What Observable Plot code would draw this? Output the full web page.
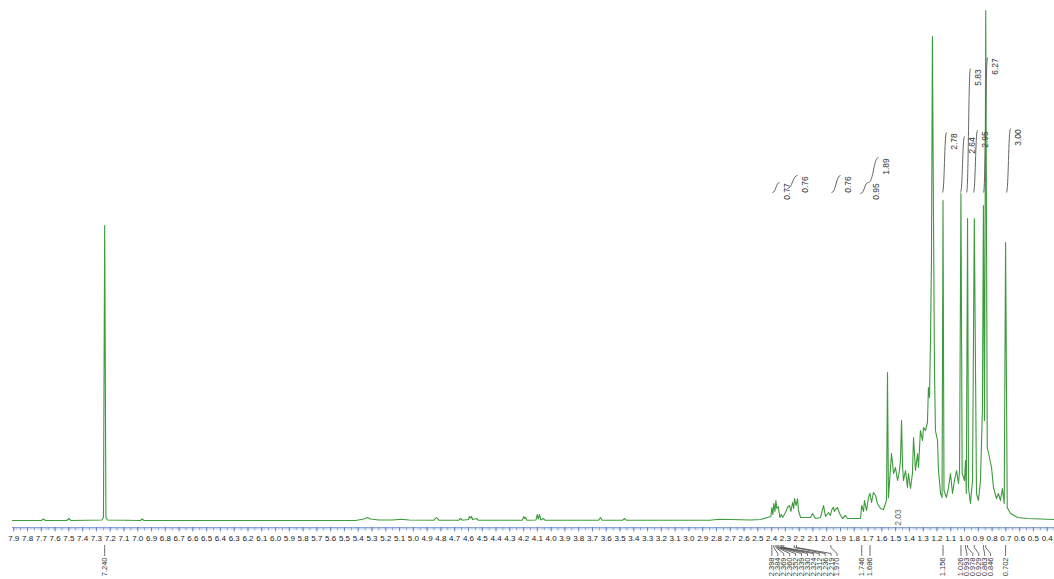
<!DOCTYPE html>
<html><head><meta charset="utf-8">
<script src="https://cdn.jsdelivr.net/npm/d3@7"></script>
<script src="https://cdn.jsdelivr.net/npm/@observablehq/plot@0.6"></script>
<style>body{margin:0;background:#fff}#chart svg{display:block}</style>
</head><body><div id="chart"></div>
<script>
// Chemical shift (ppm) and intensity of the trace
const shiftPpm = [
  7.909, 7.700, 7.684, 7.670, 7.515, 7.500, 7.485, 7.260, 7.249, 7.240,
  7.231, 7.220, 6.980, 6.968, 6.955, 5.420, 5.360, 5.335, 5.310, 5.250,
  5.150, 5.093, 5.030, 4.850, 4.832, 4.815, 4.670, 4.658, 4.645, 4.600,
  4.593, 4.585, 4.578, 4.570, 4.542, 4.530, 4.210, 4.198, 4.191, 4.186,
  4.175, 4.110, 4.101, 4.093, 4.084, 4.075, 4.058, 4.045, 3.655, 3.642,
  3.630, 3.480, 3.468, 3.455, 2.850, 2.780, 2.700, 2.550, 2.481, 2.430,
  2.405, 2.398, 2.391, 2.384, 2.376, 2.369, 2.362, 2.352, 2.340, 2.330,
  2.320, 2.299, 2.285, 2.270, 2.260, 2.248, 2.240, 2.234, 2.222, 2.212,
  2.205, 2.190, 2.169, 2.118, 2.103, 2.081, 2.045, 2.023, 2.009, 1.987,
  1.973, 1.965, 1.958, 1.951, 1.944, 1.936, 1.922, 1.907, 1.886, 1.864,
  1.849, 1.755, 1.746, 1.733, 1.726, 1.711, 1.697, 1.686, 1.675, 1.661,
  1.646, 1.632, 1.610, 1.588, 1.574, 1.566, 1.559, 1.552, 1.530, 1.515,
  1.501, 1.486, 1.472, 1.465, 1.457, 1.450, 1.443, 1.428, 1.414, 1.407,
  1.392, 1.378, 1.370, 1.356, 1.341, 1.334, 1.320, 1.305, 1.298, 1.283,
  1.269, 1.262, 1.254, 1.247, 1.240, 1.233, 1.225, 1.218, 1.211, 1.196,
  1.189, 1.174, 1.163, 1.156, 1.149, 1.131, 1.116, 1.102, 1.087, 1.073,
  1.058, 1.044, 1.036, 1.026, 1.017, 1.000, 0.993, 0.987, 0.978, 0.971,
  0.957, 0.942, 0.929, 0.913, 0.899, 0.884, 0.870, 0.863, 0.855, 0.846,
  0.835, 0.819, 0.804, 0.790, 0.768, 0.754, 0.739, 0.725, 0.712, 0.702,
  0.690, 0.666, 0.616, 0.543, 0.347
];
const intensity = [
  0, 0, 1.5, 0, 0, 2, 0, 0.5, 3, 295,
  3, 0.5, 0, 1.5, 0, 0, 1.5, 3, 1.5, 0.5,
  0.5, 1.2, 0.5, 0.3, 3, 0.3, 0.3, 2, 0.3, 1,
  4, 2.5, 4, 1, 2, 0.3, 0.3, 4, 2, 3,
  0.3, 0.5, 6, 1.5, 6, 0.5, 2, 0.3, 0.3, 3,
  0.3, 0.3, 2, 0.3, 0.3, 1.2, 1, 0.5, 1, 3,
  4, 13, 6, 17, 9, 20, 12, 14, 3, 6,
  3, 8, 13, 15, 9, 18, 12, 22, 15, 22,
  10, 3, 3, 3, 7, 2, 3, 15, 4, 8,
  5, 10, 12, 13, 9, 11, 13, 7, 2, 5,
  2, 2, 15, 9, 20, 10, 23, 27, 18, 28,
  25, 17, 12, 11, 17, 20, 148, 23, 67, 47,
  53, 40, 50, 60, 100, 55, 40, 50, 33, 47,
  32, 47, 83, 50, 67, 53, 90, 80, 93, 90,
  98, 133, 123, 180, 260, 484, 300, 150, 90, 80,
  50, 27, 23, 320, 30, 23, 33, 47, 27, 40,
  50, 37, 50, 327, 47, 40, 60, 27, 302, 33,
  17, 40, 302, 27, 20, 40, 112, 315, 100, 510,
  73, 63, 53, 33, 22, 27, 20, 32, 17, 278,
  13, 7, 3, 2, 1
];

// Peak picking labels
const peakLabels = [7.240, 2.398, 2.384, 2.369, 2.360, 2.352, 2.339, 2.330, 2.324, 2.312, 2.236, 2.219, 1.970,
  1.746, 1.686, 1.156, 1.026, 0.993, 0.978, 0.929, 0.863, 0.846, 0.702];

// Integrals
const integralValues = ["0.77", "0.76", "0.76", "0.95", "1.89", "2.78", "2.64", "5.83", "2.95", "6.27", "3.00"];
const integralFrom = [2.394, 2.285, 1.965, 1.755, 1.697, 1.160, 1.029, 0.985, 0.935, 0.862, 0.696];
const integralTo   = [2.343, 2.212, 1.900, 1.697, 1.624, 1.131, 1.000, 0.957, 0.906, 0.833, 0.666];
const integralLow  = [328, 332, 328, 327, 338, 328, 328, 328, 328, 328, 328];
const integralHigh = [338, 345, 345, 338, 363, 388, 384, 452, 390, 463, 392];

// Integral value shown near the baseline
const baseIntegralValue = ["2.03"];
const baseIntegralPpm = [1.480];
const baseIntegralLevel = [3];

// Axis tick labels (ppm)
const tickLabels = [7.9, 7.8, 7.7, 7.6, 7.5, 7.4, 7.3, 7.2, 7.1, 7.0, 6.9, 6.8, 6.7, 6.6, 6.5, 6.4, 6.3, 6.2, 6.1, 6.0,
  5.9, 5.8, 5.7, 5.6, 5.5, 5.4, 5.3, 5.2, 5.1, 5.0, 4.9, 4.8, 4.7, 4.6, 4.5, 4.4, 4.3, 4.2, 4.1, 4.0,
  3.9, 3.8, 3.7, 3.6, 3.5, 3.4, 3.3, 3.2, 3.1, 3.0, 2.9, 2.8, 2.7, 2.6, 2.5, 2.4, 2.3, 2.2, 2.1, 2.0,
  1.9, 1.8, 1.7, 1.6, 1.5, 1.4, 1.3, 1.2, 1.1, 1.0, 0.9, 0.8, 0.7, 0.6, 0.5, 0.4];

// ---- build tables ----
const spectrum = shiftPpm.map((s, i) => ({ppm: s, value: intensity[i]}));
const integrals = integralValues.map((v, i) => ({label: v, x1: integralFrom[i], x2: integralTo[i], y1: integralLow[i], y2: integralHigh[i]}));

// label layout: push labels apart (forward pass), in ppm units
const labelGap = 0.043;
const sortedPeaks = [...peakLabels].sort((a, b) => b - a);
const peakLayout = [];
sortedPeaks.forEach((p, i) => {
  let lx = p;
  if (i > 0) lx = Math.min(p, peakLayout[i - 1].labelX - labelGap);
  peakLayout.push({ppm: p, labelX: lx, id: i});
});
const connectors = peakLayout.flatMap(d => [
  {id: d.id, x: d.ppm, y: -25},
  {id: d.id, x: d.ppm, y: -27},
  {id: d.id, x: d.labelX, y: -33},
  {id: d.id, x: d.labelX, y: -35}
]);

const minorTicks = d3.range(35, 791).map(d => d / 100);
const midTicks = minorTicks.filter(d => Math.round(d * 100) % 5 === 0);
const axisColor = "#8ea6d6";

const chart = Plot.plot({
  width: 1054,
  height: 579,
  marginTop: 0,
  marginBottom: 59,
  marginLeft: 12,
  marginRight: 0,
  style: {fontFamily: "'Liberation Sans', Arial, sans-serif", background: "#fff"},
  x: {domain: [7.909, 0.347], axis: null},
  y: {domain: [0, 520], axis: null},
  marks: [
    Plot.ruleY([-7], {stroke: axisColor, strokeWidth: 1}),
    Plot.ruleX(minorTicks, {x: d => d, y1: -7, y2: -9.5, stroke: axisColor, strokeWidth: 0.6}),
    Plot.ruleX(midTicks, {x: d => d, y1: -7, y2: -10.5, stroke: "#6f8cc6", strokeWidth: 0.7}),
    Plot.ruleX(tickLabels, {x: d => d, y1: -7, y2: -11.5, stroke: "#5d7cbb", strokeWidth: 0.8}),
    Plot.text(tickLabels, {x: d => d, y: -18, text: d => d.toFixed(1), fontSize: 8, fill: "#222", letterSpacing: "-0.1px"}),
    Plot.line(spectrum, {x: "ppm", y: "value", stroke: "#3d9a3d", strokeWidth: 1.1}),
    Plot.link(integrals, {x1: "x1", y1: "y1", x2: "x2", y2: "y2", curve: "bump-x", stroke: "#666", strokeWidth: 1}),
    Plot.text(integrals, {x: "x2", y: "y2", text: "label", rotate: -90, dx: 8, dy: 9, fontSize: 8.5, fill: "#333"}),
    Plot.text(baseIntegralValue, {x: (d, i) => baseIntegralPpm[i], y: (d, i) => baseIntegralLevel[i], text: d => d, rotate: -90, fontSize: 8.5, fill: "#666"}),
    Plot.line(connectors, {x: "x", y: "y", z: "id", stroke: "#444", strokeWidth: 0.8}),
    Plot.text(peakLayout, {x: "labelX", y: -37, text: d => d.ppm.toFixed(3), rotate: -90, textAnchor: "end", fontSize: 7.5, fill: "#333"})
  ]
});
document.getElementById("chart").appendChild(chart);
</script>
</body></html>
